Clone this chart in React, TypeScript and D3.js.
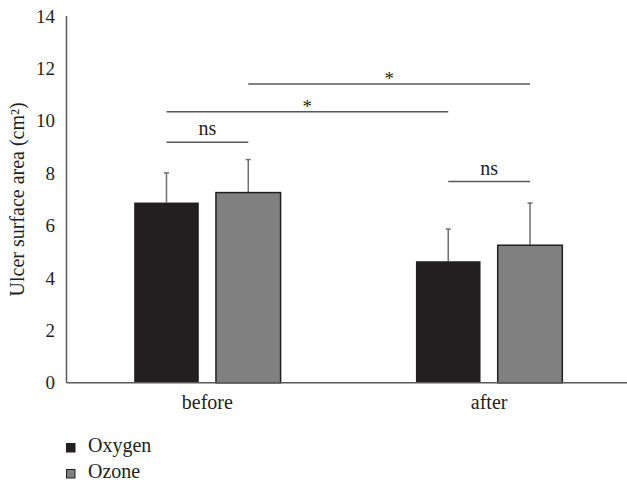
import * as d3 from 'd3';

const GROUPS = ['before', 'after'];
const SERIES = ['Oxygen', 'Ozone'];
const OXYGEN_MEAN = [6.88, 4.64];
const OZONE_MEAN = [7.26, 5.25];
const OXYGEN_SD = [1.13, 1.23];
const OZONE_SD = [1.26, 1.61];
const Y_TICKS = [0, 2, 4, 6, 8, 10, 12, 14];

// significance brackets: [group, series] -> [group, series] at a given y value
const BRACKET_FROM = [['before', 'Oxygen'], ['before', 'Oxygen'], ['before', 'Ozone'], ['after', 'Oxygen']];
const BRACKET_TO = [['before', 'Ozone'], ['after', 'Oxygen'], ['after', 'Ozone'], ['after', 'Ozone']];
const BRACKET_Y = [9.18, 10.35, 11.4, 7.68];
const BRACKET_LABEL = ['ns', '*', '*', 'ns'];

const COLORS: Record<string, string> = { Oxygen: '#231f20', Ozone: '#808080' };
const FONT = 'Liberation Serif, DejaVu Serif, serif';
const W = 627;
const H = 483;
const margin = { left: 66.5, right: -3, top: 16, bottom: 100 };

export default function App() {
    const x0 = d3.scaleBand<string>().domain(GROUPS).range([margin.left, W - margin.right]);
    const x1 = d3
        .scaleBand<string>()
        .domain(SERIES)
        .range([x0.bandwidth() / 2 - 73.2, x0.bandwidth() / 2 + 73.2])
        .paddingInner(0.21);
    const y = d3.scaleLinear().domain([0, 14]).range([H - margin.bottom - 0.2, margin.top]);

    const means: Record<string, number[]> = { Oxygen: OXYGEN_MEAN, Ozone: OZONE_MEAN };
    const sds: Record<string, number[]> = { Oxygen: OXYGEN_SD, Ozone: OZONE_SD };

    const bars = GROUPS.flatMap((g, gi) =>
        SERIES.map((s) => ({
            key: `${g}-${s}`,
            x: (x0(g) || 0) + (x1(s) || 0),
            width: x1.bandwidth(),
            top: y(means[s][gi]),
            errTop: y(means[s][gi] + sds[s][gi]),
            fill: COLORS[s],
            series: s,
        }))
    );
    const centre = (g: string, s: string) => (x0(g) || 0) + (x1(s) || 0) + x1.bandwidth() / 2;

    const y0 = y(0);
    const axisColor = '#595959';

    return (
        <svg
            width={W}
            height={H}
            style={{ position: 'absolute', left: 0, top: 0, background: '#fff', fontFamily: FONT }}
        >
            {bars.map((b) => (
                <g key={b.key}>
                    <line
                        x1={b.x + b.width / 2}
                        x2={b.x + b.width / 2}
                        y1={b.top}
                        y2={b.errTop}
                        stroke="#6e6e6e"
                        strokeWidth={1.5}
                    />
                    <line
                        x1={b.x + b.width / 2 - 2.5}
                        x2={b.x + b.width / 2 + 2.5}
                        y1={b.errTop}
                        y2={b.errTop}
                        stroke="#6e6e6e"
                        strokeWidth={1.5}
                    />
                    <rect
                        x={b.x}
                        y={b.top}
                        width={b.width}
                        height={y0 - b.top}
                        fill={b.fill}
                        stroke={b.series === 'Ozone' ? '#231f20' : 'none'}
                        strokeWidth={1.5}
                    />
                </g>
            ))}

            {/* axes */}
            <line x1={margin.left} x2={margin.left} y1={y(14)} y2={y0} stroke={axisColor} strokeWidth={1.5} />
            <line x1={margin.left} x2={W} y1={y0} y2={y0} stroke={axisColor} strokeWidth={1.5} />
            {Y_TICKS.map((t) => (
                <text key={t} x={55} y={y(t)} dy="0.35em" textAnchor="end" fontSize={19} fill="#231f20">
                    {t}
                </text>
            ))}
            {GROUPS.map((g) => (
                <text
                    key={g}
                    x={(x0(g) || 0) + x0.bandwidth() / 2}
                    y={409}
                    textAnchor="middle"
                    fontSize={20}
                    fill="#231f20"
                >
                    {g}
                </text>
            ))}
            <text
                transform={`translate(24, ${y(7.0)}) rotate(-90)`}
                textAnchor="middle"
                fontSize={20}
                fill="#231f20"
            >
                Ulcer surface area (cm²)
            </text>

            {/* significance brackets */}
            {BRACKET_Y.map((v, i) => {
                const xa = centre(BRACKET_FROM[i][0], BRACKET_FROM[i][1]);
                const xb = centre(BRACKET_TO[i][0], BRACKET_TO[i][1]);
                const ly = y(v);
                const star = BRACKET_LABEL[i] === '*';
                return (
                    <g key={i}>
                        <line x1={xa} x2={xb} y1={ly} y2={ly} stroke={axisColor} strokeWidth={1.5} />
                        <text
                            x={(xa + xb) / 2}
                            y={star ? ly + 1 : ly - 7}
                            textAnchor="middle"
                            fontSize={star ? 19 : 20}
                            fill="#231f20"
                        >
                            {BRACKET_LABEL[i]}
                        </text>
                    </g>
                );
            })}

            {/* legend */}
            {SERIES.map((s, i) => (
                <g key={s} transform={`translate(66, ${443 + i * 26})`}>
                    <rect x={0.5} y={0.5} width={8.5} height={8.5} fill={COLORS[s]} stroke="#231f20" strokeWidth={1} />
                    <text x={22} y={9} fontSize={20} fill="#231f20">
                        {s}
                    </text>
                </g>
            ))}
        </svg>
    );
}
